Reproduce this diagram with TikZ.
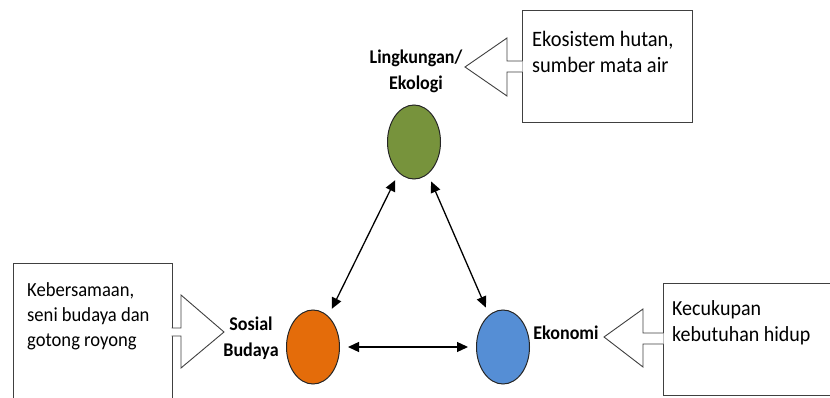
\documentclass[tikz,border=0pt]{standalone}
\usepackage{fontspec}
\setmainfont{Carlito}[FakeStretch=0.93]
\usepackage{tikz}
\usetikzlibrary{arrows.meta,shapes.geometric,positioning,calc}

\definecolor{ekogreen}{HTML}{77933C}
\definecolor{sosorange}{HTML}{E46C0A}
\definecolor{ekoblue}{HTML}{558ED5}

\tikzset{
  pillar/.style={ellipse, draw=black!85, line width=1pt, minimum width=53pt, minimum height=74pt, inner sep=0pt},
  pillartext/.style={font=\fontsize{19.4}{26}\selectfont\bfseries, align=center, inner sep=0pt},
  infobox/.style={draw=black!75, line width=0.9pt, anchor=north west, inner sep=0pt},
  infotext/.style={font=\fontsize{21.5}{26}\selectfont, align=left, anchor=north west, inner sep=0pt},
  callout/.style={draw=black!75, line width=0.9pt, fill=white},
  link/.style={{Triangle[length=11pt,width=10pt]}-{Triangle[length=11pt,width=10pt]}, line width=1.3pt, shorten >=8pt, shorten <=8pt}
}

\begin{document}
\begin{tikzpicture}[x=1pt,y=-1pt]
\useasboundingbox (0,0) rectangle (830,398);

% pilar
\node[pillar, fill=ekogreen] (ling) at (414,142) {};
\node[pillar, fill=sosorange] (sos) at (313,347) {};
\node[pillar, fill=ekoblue] (eko) at (503,347) {};

\node[pillartext] (lblling) at (416,71) {Lingkungan/\\Ekologi};
\node[pillartext] (lblsos) at (251,338) {Sosial\\Budaya};
\node[pillartext] (lbleko) at (566,333) {Ekonomi};

% hubungan
\draw[link] (ling) -- (sos);
\draw[link] (ling) -- (eko);
\draw[link] (sos) -- (eko);

% kotak keterangan
\node[infobox, minimum width=170pt, minimum height=112pt] (boxling) at (522,10) {};
\node[infobox, minimum width=159pt, minimum height=150pt] (boxsos) at (13,263) {};
\node[infobox, minimum width=180pt, minimum height=112pt] (boxeko) at (663,283) {};

\node[infotext, font=\fontsize{22}{26}\selectfont] (txtling) at (532,31) {Ekosistem hutan,\\sumber mata air};
\node[infotext, font=\fontsize{20}{25}\selectfont] (txtsos) at (27,282.5) {Kebersamaan,\\seni budaya dan\\gotong royong};
\node[infotext] (txteko) at (672,300) {Kecukupan\\kebutuhan hidup};

\filldraw[callout] (522.5,61) -- (507,61) -- (507,38) -- (465,67) -- (507,96) -- (507,72) -- (522.5,72);
\filldraw[callout] (171.5,328) -- (181,328) -- (181,295) -- (224,332) -- (181,368) -- (181,336) -- (171.5,336);
\filldraw[callout] (663.5,333) -- (643,333) -- (643,309) -- (604,337) -- (643,367) -- (643,344) -- (663.5,344);
\end{tikzpicture}
\end{document}
